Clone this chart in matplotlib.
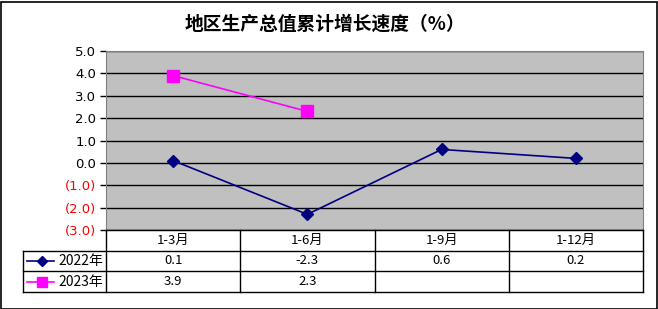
import numpy as np
import matplotlib
matplotlib.use('Agg')
import matplotlib.pyplot as plt
from matplotlib.patches import Rectangle

plt.rcParams['font.family'] = ['Noto Sans CJK SC', 'DejaVu Sans']

title = '地区生产总值累计增长速度（%）'
periods = ['1-3月', '1-6月', '1-9月', '1-12月']
series_names = ['2022年', '2023年']
growth_2022 = [0.1, -2.3, 0.6, 0.2]
growth_2023 = [3.9, 2.3, None, None]
y_ticks = [5.0, 4.0, 3.0, 2.0, 1.0, 0.0, -1.0, -2.0, -3.0]

colors = ['#000080', '#FF00FF']
markers = ['D', 's']
msizes = [6, 8]

W, H = 658, 309
fig = plt.figure(figsize=(W / 100, H / 100), dpi=100)

# outer frame
fig.patches.append(Rectangle((0.5 / W, 0.5 / H), 1 - 2 / W, 1 - 2 / H, transform=fig.transFigure,
                             fill=False, edgecolor='black', linewidth=1.2))

def px(l, t, r, b):
    return [l / W, 1 - b / H, (r - l) / W, (b - t) / H]

ax = fig.add_axes(px(106, 51, 643, 230))
ax.set_facecolor('#C0C0C0')
ax.set_xlim(-0.5, 3.5)
ax.set_ylim(-3, 5)
for v in y_ticks:
    ax.axhline(v, color='black', linewidth=1, zorder=1)
for s in ax.spines.values():
    s.set_color('#808080')
ax.set_xticks([])
ax.set_yticks(y_ticks)
labels = []
for v in y_ticks:
    labels.append('(%.1f)' % abs(v) if v < 0 else '%.1f' % v)
ax.set_yticklabels(labels, fontsize=9.5, family=['DejaVu Sans'])
for lab, v in zip(ax.get_yticklabels(), y_ticks):
    lab.set_color('red' if v < 0 else 'black')
ax.tick_params(axis='y', length=4, width=1, pad=3)

x = np.arange(len(periods))
all_series = [growth_2022, growth_2023]
for vals, c, m, ms in zip(all_series, colors, markers, msizes):
    y = np.array([np.nan if v is None else v for v in vals], dtype=float)
    ax.plot(x, y, color=c, marker=m, markersize=ms, linewidth=1.2, zorder=3, clip_on=False)

# data table below the plot
leg_w = (106 - 23) / 134.25
tab = fig.add_axes(px(23, 230, 643, 292))
tab.set_xlim(-0.5 - leg_w, 3.5)
tab.set_ylim(0, 3)
tab.axis('off')
lw = 1
tab.plot([-0.5, 3.5], [3, 3], color='black', lw=lw, clip_on=False)
for yy in [2, 1, 0]:
    tab.plot([-0.5 - leg_w, 3.5], [yy, yy], color='black', lw=lw, clip_on=False)
tab.plot([-0.5 - leg_w] * 2, [0, 2], color='black', lw=lw, clip_on=False)
for xx in [-0.5, 0.5, 1.5, 2.5, 3.5]:
    tab.plot([xx, xx], [0, 3], color='black', lw=lw, clip_on=False)

for i, p in enumerate(periods):
    tab.text(i, 2.5, p, ha='center', va='center', fontsize=9.5)
for r, (vals, name, c, m, ms) in enumerate(zip(all_series, series_names, colors, markers, msizes)):
    yy = 1.5 - r
    for i, v in enumerate(vals):
        if v is not None:
            tab.text(i, yy, '%.1f' % v, ha='center', va='center', fontsize=9.5)
    x0 = -0.5 - leg_w
    tab.plot([x0 + 0.03, x0 + 0.23], [yy, yy], color=c, lw=1.2, clip_on=False)
    tab.plot([x0 + 0.14], [yy], color=c, marker=m, markersize=ms - 1, clip_on=False)
    tab.text(x0 + 0.265, yy, name, ha='left', va='center', fontsize=10)

fig.text(325 / W, 1 - 24 / H, title, ha='center', va='center', fontsize=13.5, fontweight='bold')

fig.savefig('out.png', dpi=100)
